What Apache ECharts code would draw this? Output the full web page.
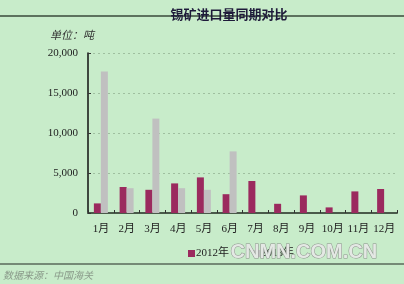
<!DOCTYPE html>
<html><head><meta charset="utf-8">
<script src="https://cdn.jsdelivr.net/npm/echarts@6/dist/echarts.min.js"></script>
<style>html,body{margin:0;padding:0;background:#c8ecca;}#c{width:404px;height:284px;}</style>
</head><body><div id="c"></div>
<script>
const categories = ['1月','2月','3月','4月','5月','6月','7月','8月','9月','10月','11月','12月'];
const seriesNames = ['2012年','2013年'];
const values2012 = [1200, 3250, 2900, 3700, 4450, 2350, 4000, 1150, 2200, 700, 2700, 3000];
const values2013 = [17700, 3100, 11800, 3100, 2900, 7700, null, null, null, null, null, null];
const yTicks = [0, 5000, 10000, 15000, 20000];

const chart = echarts.init(document.getElementById('c'), null, {renderer:'canvas'});
const serif = '"Liberation Serif","Noto Sans CJK SC",serif';
chart.setOption({
  backgroundColor: '#c8ecca',
  animation: false,
  title: {
    text: '锡矿进口量同期对比',
    left: 224, top: 3, textAlign: 'center',
    textStyle: {fontSize: 13, fontWeight: 'bold', color: '#1e1a3a', fontFamily: '"Noto Sans CJK SC",sans-serif'}
  },
  graphic: [
    {type:'line', shape:{x1:0,y1:16,x2:404,y2:16}, style:{stroke:'#3a4a3a', lineWidth:1.5}},
    {type:'line', shape:{x1:0,y1:264,x2:404,y2:264}, style:{stroke:'#5a6a5a', lineWidth:1.5}},
    {type:'text', left:50, top:29, style:{text:'单位：吨', font:'italic 11px "Noto Sans CJK SC",sans-serif', fill:'#333'}},
    {type:'text', left:3, top:270, style:{text:'数据来源：中国海关', font:'italic 10px "Noto Sans CJK SC",sans-serif', fill:'#8a9a8a'}},
    {type:'text', left:230, top:242, z:100, style:{text:'CNMN.COM.CN', font:'bold 20px "Liberation Sans",Arial,sans-serif', fill:'#e4e8e4', stroke:'#8a8f8a', lineWidth:1}}
  ],
  legend: {
    data: seriesNames,
    left: 183, top: 243,
    itemWidth: 7, itemHeight: 7, itemGap: 24,
    icon: 'rect',
    textStyle: {fontSize: 11, color: '#222', fontFamily: serif, padding:[0,0,0,-4]}
  },
  grid: {left: 88, right: 7, top: 53, bottom: 71},
  xAxis: {
    type: 'category', data: categories,
    axisLine: {lineStyle: {color: '#4a5a4a', width: 2}},
    axisTick: {show: true, inside: true, length: 3, lineStyle: {color: '#333'}},
    axisLabel: {interval: 0, color: '#222', fontSize: 11, fontFamily: serif, margin: 11}
  },
  yAxis: {
    type: 'value', min: 0, max: 20000, interval: 5000,
    axisLine: {show: true, lineStyle: {color: '#111', width: 1.5}},
    axisTick: {show: true, inside: true, length: 3, lineStyle: {color: '#333'}},
    splitLine: {lineStyle: {color: '#9fbf9f', type: [2, 3]}},
    axisLabel: {color: '#222', fontSize: 11, fontFamily: serif, margin: 10,
      formatter: v => v.toLocaleString('en-US')}
  },
  series: [
    {name: seriesNames[0], type: 'bar', data: values2012, barWidth: 7, barGap: '0%', itemStyle: {color: '#9b2a5e'}},
    {name: seriesNames[1], type: 'bar', data: values2013, barWidth: 7, itemStyle: {color: '#c0c0c0'}}
  ]
});
</script></body></html>
